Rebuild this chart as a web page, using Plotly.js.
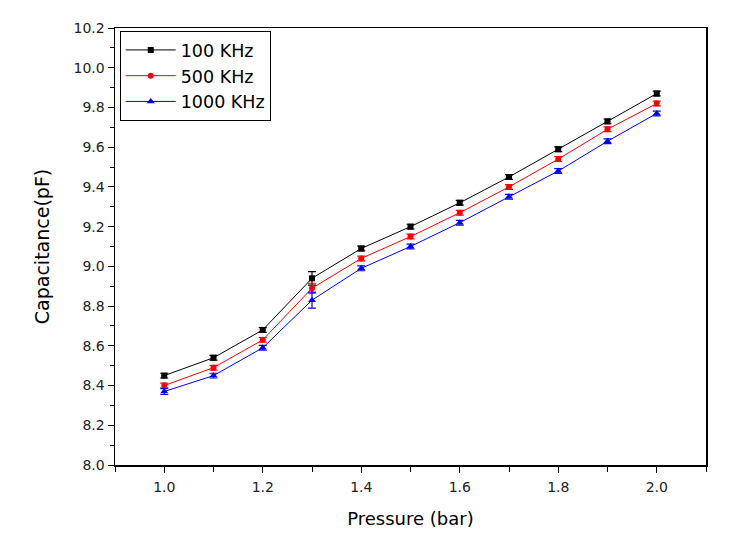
<!DOCTYPE html>
<html>
<head>
<meta charset="utf-8">
<script src="https://cdn.plot.ly/plotly-3.0.1.min.js"></script>
<style>html,body{margin:0;padding:0;background:#fff;}#chart{width:751px;height:545px;}</style>
</head>
<body>
<div id="chart"></div>
<script>
const pressure = [1.0, 1.1, 1.2, 1.3, 1.4, 1.5, 1.6, 1.7, 1.8, 1.9, 2.0];
const cap100 = [8.45, 8.54, 8.68, 8.94, 9.09, 9.20, 9.32, 9.45, 9.59, 9.73, 9.87];
const cap500 = [8.40, 8.49, 8.63, 8.89, 9.04, 9.15, 9.27, 9.40, 9.54, 9.69, 9.82];
const cap1000 = [8.37, 8.45, 8.59, 8.83, 8.99, 9.10, 9.22, 9.35, 9.48, 9.63, 9.77];
const err100 = [0.012, 0.012, 0.012, 0.034, 0.012, 0.012, 0.012, 0.012, 0.012, 0.012, 0.012];
const err500 = [0.012, 0.012, 0.012, 0.025, 0.012, 0.012, 0.012, 0.012, 0.012, 0.012, 0.012];
const err1000 = [0.015, 0.012, 0.012, 0.04, 0.012, 0.012, 0.012, 0.012, 0.012, 0.012, 0.012];
const names = ["100 KHz", "500 KHz", "1000 KHz"];

const FONT = 'DejaVu Sans, Verdana, sans-serif';

const mk = (y, e, name, color, symbol, size) => ({
  x: pressure, y: y, name: name, type: 'scatter', mode: 'lines+markers',
  line: {color: color, width: 1},
  marker: {color: color, symbol: symbol, size: size},
  error_y: {type: 'data', array: e, visible: true, color: color, thickness: 1.2, width: 4}
});

const data = [
  mk(cap100, err100, names[0], '#000000', 'square', 6),
  mk(cap500, err500, names[1], '#ff0000', 'circle', 6),
  mk(cap1000, err1000, names[2], '#0000ff', 'triangle-up', 7)
];

const axisCommon = {
  showline: true, linecolor: '#000', linewidth: 1.5, mirror: true,
  ticks: 'outside', ticklen: 6, tickwidth: 1, tickcolor: '#000',
  showgrid: false, zeroline: false,
  tickfont: {family: FONT, size: 14, color: '#222'}
};

const layout = {
  width: 751, height: 545,
  margin: {l: 115, r: 45, t: 28, b: 80},
  paper_bgcolor: '#fff', plot_bgcolor: '#fff',
  showlegend: true,
  legend: {
    x: 0.008, y: 0.993, xanchor: 'left', yanchor: 'top',
    bordercolor: '#000', borderwidth: 1, bgcolor: '#fff',
    font: {family: FONT, size: 17.5, color: '#000'},
    tracegroupgap: 0, itemwidth: 50
  },
  xaxis: Object.assign({}, axisCommon, {
    range: [0.9, 2.1], tick0: 1.0, dtick: 0.2, tickformat: '.1f',
    ticklabelstandoff: 3,
    minor: {dtick: 0.1, ticks: 'outside', ticklen: 5, tickcolor: '#000'},
    title: {text: 'Pressure (bar)', font: {family: FONT, size: 18, color: '#000'}, standoff: 18}
  }),
  yaxis: Object.assign({}, axisCommon, {
    range: [8.0, 10.2], tick0: 8.0, dtick: 0.2, tickformat: '.1f',
    minor: {dtick: 0.1, ticks: 'outside', ticklen: 4, tickcolor: '#000'},
    title: {text: 'Capacitance(pF)', font: {family: FONT, size: 19, color: '#000'}, standoff: 19}
  })
};

Plotly.newPlot('chart', data, layout, {displayModeBar: false, staticPlot: true});
</script>
</body>
</html>
